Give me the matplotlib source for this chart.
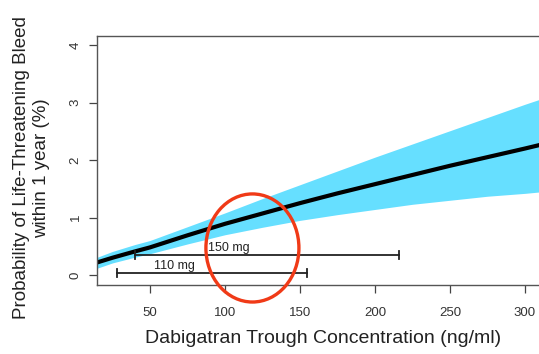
import matplotlib.pyplot as plt
from matplotlib.patches import Ellipse

plt.rcParams['font.family'] = ['Liberation Sans', 'DejaVu Sans']

# fitted probability curve and its confidence band
conc = [15, 25, 40, 50, 75, 100, 125, 150, 175, 200, 225, 250, 275, 300, 316]
prob = [0.22, 0.30, 0.41, 0.48, 0.69, 0.89, 1.07, 1.25, 1.42, 1.58, 1.74, 1.90, 2.05, 2.20, 2.30]
upper = [0.31, 0.41, 0.53, 0.60, 0.84, 1.08, 1.33, 1.57, 1.81, 2.05, 2.28, 2.51, 2.74, 2.97, 3.11]
lower = [0.12, 0.21, 0.31, 0.37, 0.54, 0.70, 0.83, 0.95, 1.05, 1.14, 1.23, 1.30, 1.37, 1.42, 1.46]

# trough concentration ranges per dose
doses = ['150 mg', '110 mg']
range_lo = [40, 28]
range_hi = [216, 155]
range_y = [0.34, 0.03]
label_x = [89, 53]
label_y = [0.47, 0.15]

xticks = [50, 100, 150, 200, 250, 300]
yticks = [0, 1, 2, 3, 4]

fig = plt.figure(figsize=(5.39, 3.54), dpi=100)
ax = fig.add_axes([97 / 539, 69 / 354, 452 / 539, 249 / 354])

ax.fill_between(conc, lower, upper, color='#66dfff', lw=0)
ax.plot(conc, prob, color='black', lw=3)

for name, lo, hi, yv, tx, ty in zip(doses, range_lo, range_hi, range_y, label_x, label_y):
    ax.plot([lo, hi], [yv, yv], color='#222222', lw=1.3)
    ax.plot([lo, lo], [yv - 0.07, yv + 0.07], color='#222222', lw=1.3)
    ax.plot([hi, hi], [yv - 0.07, yv + 0.07], color='#222222', lw=1.3)
    ax.text(tx, ty, name, fontsize=9, va='center', ha='left', color='#222222')

# red circle highlighting the overlap region
ell = Ellipse((118.3, 0.47), 62, 1.88, fill=False, edgecolor='#f03a17', lw=2.4, clip_on=False, zorder=5)
ax.add_patch(ell)

ax.set_xlim(14.7, 316)
ax.set_ylim(-0.174, 4.157)
ax.set_xticks(xticks)
ax.set_yticks(yticks)
ax.tick_params(axis='both', direction='out', length=6, width=0.9, color='#444444', labelsize=9.5, labelcolor='#333333')
ax.tick_params(axis='x', pad=10)
ax.tick_params(axis='y', pad=5, labelrotation=90)
for lab in ax.get_yticklabels():
    lab.set_va('center')
for sp in ax.spines.values():
    sp.set_color('#555555')
    sp.set_linewidth(1)

ax.set_xlabel('Dabigatran Trough Concentration (ng/ml)', fontsize=14, color='#222222', labelpad=8)
ax.set_ylabel('Probability of Life-Threatening Bleed\nwithin 1 year (%)', fontsize=13.5, color='#222222', linespacing=1.25)
ax.yaxis.set_label_coords(-0.104, 0.47)

fig.savefig('out.png', dpi=100)
